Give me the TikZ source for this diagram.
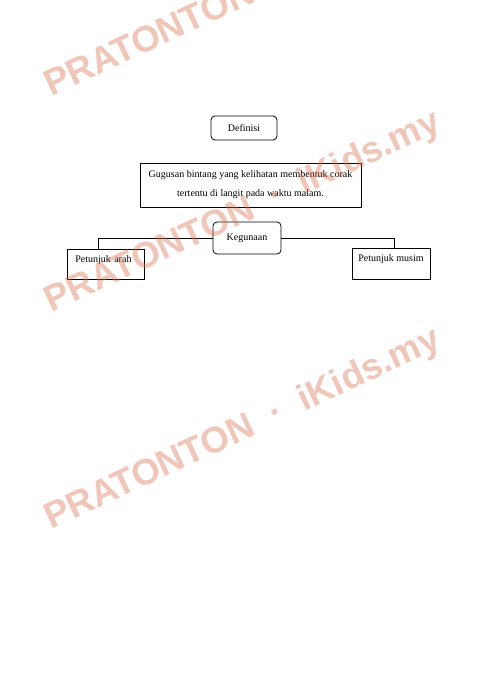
\documentclass[tikz,border=0pt]{standalone}
\usepackage{fontspec}
\setmainfont{Liberation Serif}
\newfontfamily\wmfont{Liberation Sans}
\usepackage{tikz}
\usetikzlibrary{positioning}
\usepackage{xcolor}
\definecolor{wmpink}{RGB}{218,112,78}

\tikzset{
  box/.style={draw=black, line width=0.8pt, inner sep=4pt, font=\fontsize{10}{12}\selectfont},
  roundbox/.style={box, rounded corners=4pt},
  watermark/.style={wmpink, opacity=0.4, rotate=25, anchor=base west, inner sep=0pt,
    font=\wmfont\bfseries\fontsize{36.5}{36.5}\selectfont}
}

\begin{document}
\begin{tikzpicture}[x=1pt, y=-1pt]

\useasboundingbox (0,0) rectangle (496,700);

\begin{scope}{

% boxes
{

\node[roundbox, minimum width=66pt, minimum height=24pt] (defn) at (244,128) {Definisi};

\node[box, minimum width=221pt, minimum height=44pt, align=center,
  font=\fontsize{10}{19}\selectfont] (gugusan) at (250.5,185)
{Gugusan bintang yang kelihatan membentuk corak\\tertentu di langit pada waktu malam.};

\node[roundbox, minimum width=68pt, minimum height=32pt] (guna) at (247,238) {Kegunaan};

\node[box, anchor=base west, inner xsep=8pt, text width=61pt, align=left,
  text height=9.5pt, text depth=12.5pt] (arah) at (67,262.5) {Petunjuk arah};

\node[box, anchor=base, minimum width=78pt,
  text height=9.5pt, text depth=13.5pt] (musim) at (391,261.5) {Petunjuk musim};

}

% lines
{

\draw[black, line width=0.8pt] (guna.west) -| ([xshift=-7.5pt]arah.north);
\draw[black, line width=0.8pt] (guna.east) -| ([xshift=3pt]musim.north);

}

} \end{scope}

% watermark
\begin{scope}
\clip (0,0) rectangle (496,700);
\foreach \wy [count=\i] in {97,313,530}{
  \node[watermark] (wm\i) at (51,\wy) {PRATONTON\ \ ·\ \ iKids.my};
}
\end{scope}

\end{tikzpicture}
\end{document}
